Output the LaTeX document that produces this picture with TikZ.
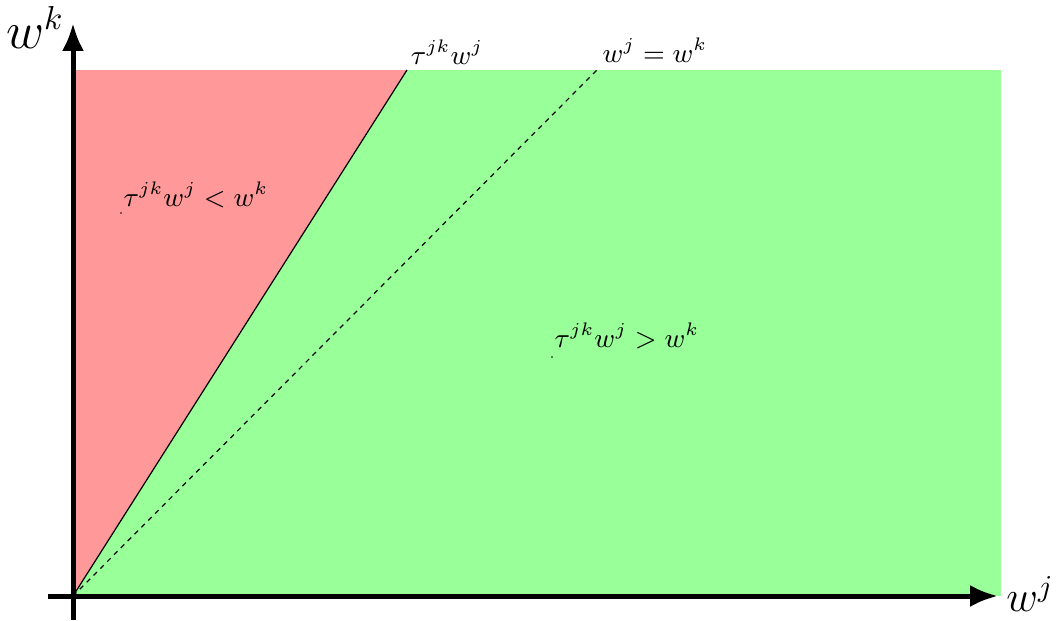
\documentclass[tikz,border=0pt]{standalone}
\usetikzlibrary{arrows.meta}
\definecolor{regred}{RGB}{255,153,153}
\definecolor{reggreen}{RGB}{153,255,153}
\begin{document}
\begin{tikzpicture}[x=0.33pt,y=0.33pt,
  axisline/.style={line width=1.65pt,-{Latex[length=9.2pt,width=7.3pt]}},
  thinline/.style={line width=0.4pt},
  dashline/.style={line width=0.4pt,dash pattern=on 1.6pt off 1.6pt},
  dot/.style={circle,fill,inner sep=0pt,minimum size=0.6pt},
  biglabel/.style={font=\fontsize{16}{19}\selectfont,inner sep=0pt},
  reglabel/.style={font=\fontsize{9}{10.5}\selectfont,inner sep=0pt}]
\useasboundingbox (0,0) rectangle (1057,620);
\coordinate (O) at (73,24);
\coordinate (TL) at (73,550);
\coordinate (TR) at (1001,550);
\coordinate (T) at (407,550);
\coordinate (D) at (597,550);
\coordinate (xs) at (48,24);
\coordinate (xe) at (998,24);
\coordinate (ys) at (73,0);
\coordinate (ye) at (73,597);
\fill[reggreen] (O) rectangle (TR);
\fill[regred] (O) -- (TL) -- (T) -- cycle;
\draw[thinline] (O) -- (T);
\draw[dashline] (O) -- (D);
\draw[axisline] (xs) -- (xe);
\draw[axisline] (ys) -- (ye);
\node[biglabel] (wk) at (35,593) {$w^k$};
\node[biglabel,font=\fontsize{14.5}{17}\selectfont] (wj) at (1030,26) {$w^j$};
\node[reglabel] (ltau) at (447,568) {$\tau^{jk}w^j$};
\node[reglabel] (leq) at (655,570) {$w^j = w^k$};
\node[dot] (d1) at (121,407) {};
\node[reglabel] (lless) at (196,425) {$\tau^{jk}w^j < w^k$};
\node[dot] (d2) at (552,263) {};
\node[reglabel] (lgreat) at (627,284) {$\tau^{jk}w^j > w^k$};
\end{tikzpicture}
\end{document}
